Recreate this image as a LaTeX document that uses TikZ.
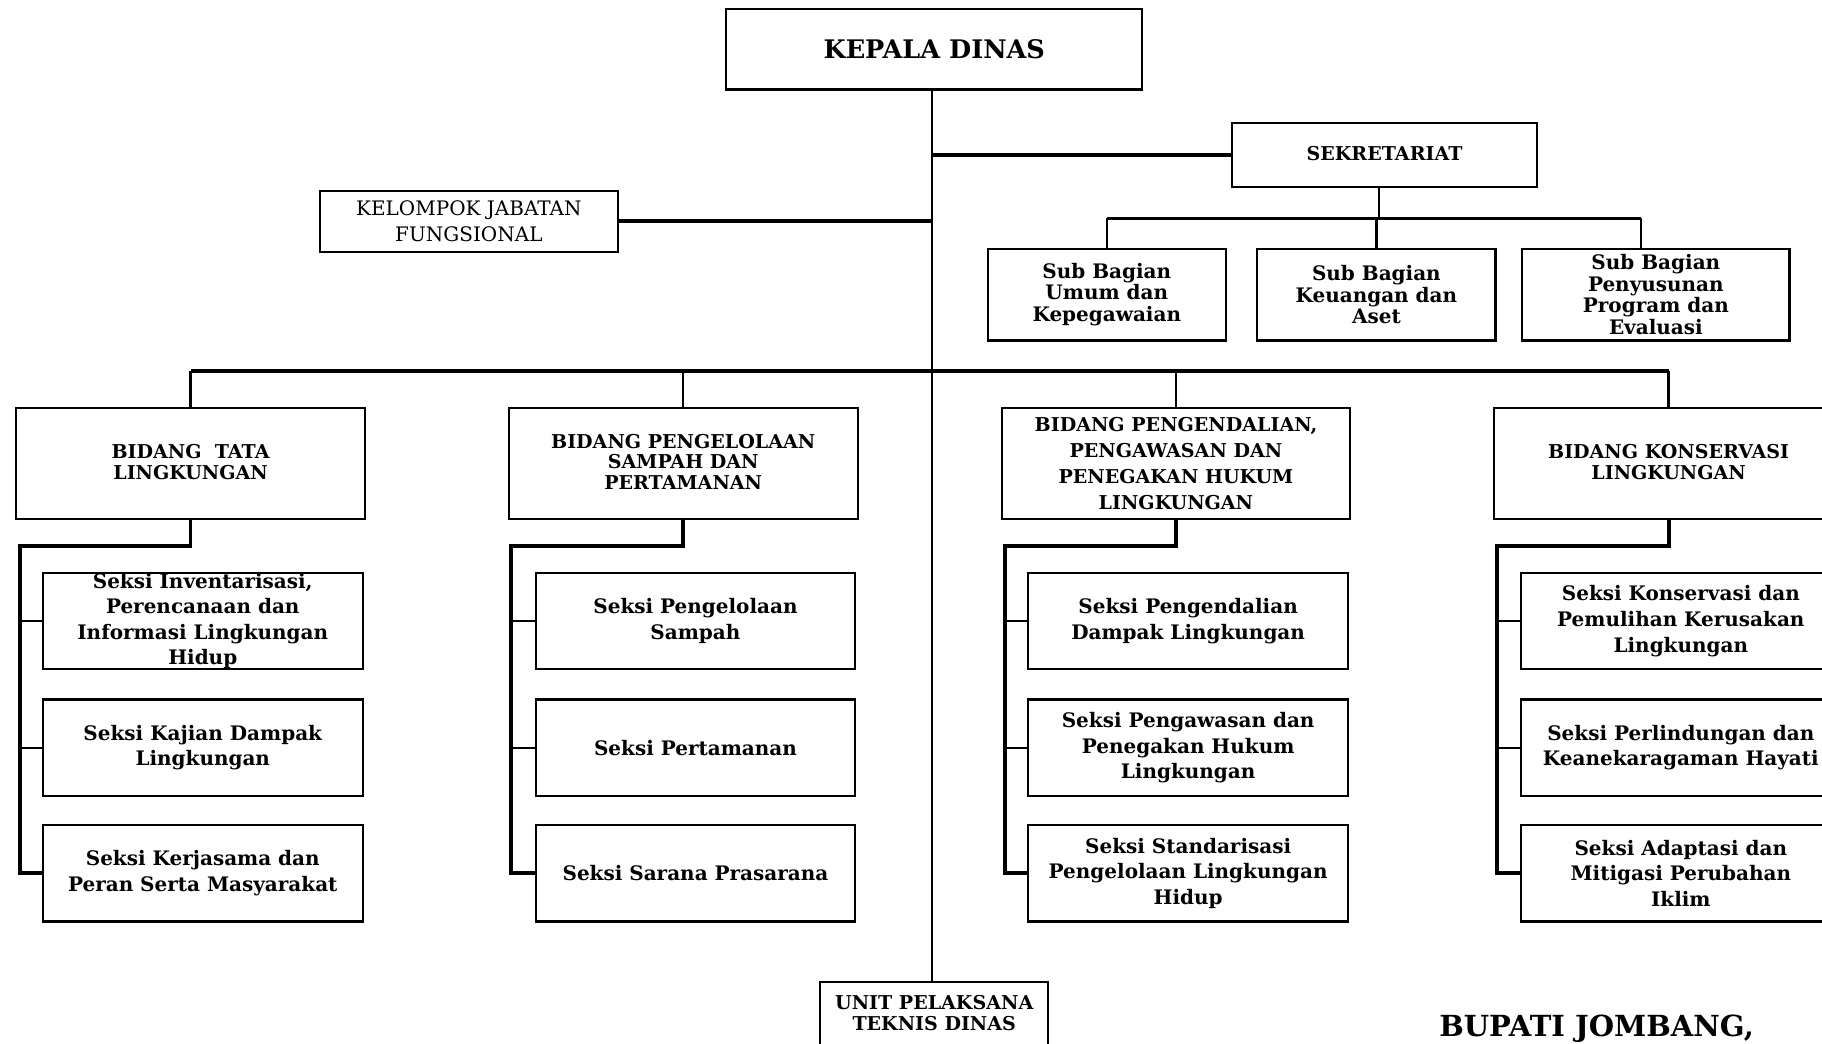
\documentclass[tikz,border=0pt]{standalone}
\usepackage{fontspec}
\setmainfont{DejaVu Serif}
\newcommand\bx[7][]{%
  \node[box,#1,minimum width={(#5-#3)*0.5pt},minimum height={(#6-#4)*0.5pt}] (#2) at ({(#3+#5)/2},{(#4+#6)/2}) {#7};}
\tikzset{
  box/.style={draw, line width=0.9pt, inner sep=0pt, align=center,
    font=\bfseries\fontsize{8.6}{11}\selectfont},
  subbag/.style={font=\bfseries\fontsize{8.6}{9.3}\selectfont},
  bidang/.style={font=\bfseries\fontsize{8.2}{9}\selectfont, text depth=1.5pt},
  bidangwide/.style={font=\bfseries\fontsize{8.2}{11.3}\selectfont},
  headbox/.style={font=\bfseries\fontsize{11}{13}\selectfont},
  regbox/.style={font=\fontsize{8.6}{11.2}\selectfont},
  thin/.style={line width=1pt},
  bus/.style={line width=1.6pt},
}
\begin{document}
\begin{tikzpicture}[x=0.5pt,y=-0.5pt]
\useasboundingbox (0,0) rectangle (1568,898);
\clip (0,0) rectangle (1568,898);
% top level
\bx[headbox]{kd}{625}{8}{983}{77}{KEPALA DINAS}
\bx[bidang]{sek}{1060}{106}{1323}{161}{SEKRETARIAT}
\bx[regbox]{kjf}{275}{164}{532}{217}{KELOMPOK JABATAN\\FUNGSIONAL}
\bx[subbag]{sb1}{850}{214}{1055}{293}{Sub Bagian\\Umum dan\\Kepegawaian}
\bx[subbag]{sb2}{1082}{214}{1287}{293}{Sub Bagian\\Keuangan dan\\Aset}
\bx[subbag]{sb3}{1310}{214}{1540}{293}{Sub Bagian\\Penyusunan\\Program dan\\Evaluasi}
% bidang
\bx[bidang]{b1}{14}{351}{314}{447}{BIDANG\ \ TATA\\LINGKUNGAN}
\bx[bidang]{b2}{438}{351}{738}{447}{BIDANG PENGELOLAAN\\SAMPAH DAN\\PERTAMANAN}
\bx[bidangwide]{b3}{862}{351}{1162}{447}{BIDANG PENGENDALIAN,\\PENGAWASAN DAN\\PENEGAKAN HUKUM\\LINGKUNGAN}
\bx[bidang]{b4}{1286}{351}{1586}{447}{BIDANG KONSERVASI\\LINGKUNGAN}
% seksi column 1
\bx{s11}{37}{493}{312}{576}{Seksi Inventarisasi,\\Perencanaan dan\\Informasi Lingkungan\\Hidup}
\bx{s12}{37}{602}{312}{685}{Seksi Kajian Dampak\\Lingkungan}
\bx{s13}{37}{710}{312}{793}{Seksi Kerjasama dan\\Peran Serta Masyarakat}
% seksi column 2
\bx{s21}{461}{493}{736}{576}{Seksi Pengelolaan\\Sampah}
\bx{s22}{461}{602}{736}{685}{Seksi Pertamanan}
\bx{s23}{461}{710}{736}{793}{Seksi Sarana Prasarana}
% seksi column 3
\bx{s31}{885}{493}{1160}{576}{Seksi Pengendalian\\Dampak Lingkungan}
\bx{s32}{885}{602}{1160}{685}{Seksi Pengawasan dan\\Penegakan Hukum\\Lingkungan}
\bx{s33}{885}{710}{1160}{793}{Seksi Standarisasi\\Pengelolaan Lingkungan\\Hidup}
% seksi column 4
\bx{s41}{1309}{493}{1584}{576}{Seksi Konservasi dan\\Pemulihan Kerusakan\\Lingkungan}
\bx{s42}{1309}{602}{1584}{685}{Seksi Perlindungan dan\\Keanekaragaman Hayati}
\bx{s43}{1309}{710}{1584}{793}{Seksi Adaptasi dan\\Mitigasi Perubahan\\Iklim}
% UPT
\bx[bidang]{upt}{706}{845}{902}{902}{UNIT PELAKSANA\\TEKNIS DINAS}
% signature
\node[font=\bfseries\fontsize{12.5}{15}\selectfont] (bupati) at (1374,885) {BUPATI JOMBANG,};

% coordinates
\coordinate (sbus) at (0,188);
\coordinate (bbus) at (0,319);
\coordinate (c1) at (17,470);
\coordinate (c2) at (440,470);
\coordinate (c3) at (865,470);
\coordinate (c4) at (1288,470);
\coordinate (trunk) at ([xshift=-1pt]kd.south);

% connectors
\draw[thin] (trunk) -- (trunk |- upt.north);
\draw[bus] (sek.west) -- (sek.west -| trunk);
\draw[bus] (kjf.east) -- (kjf.east -| trunk);
\draw[thin] ([xshift=-2.5pt]sek.south) -- ([xshift=-2.5pt]sek.south |- sbus);
\draw[bus] (sb1.north |- sbus) -- ([xshift=-6.5pt]sb3.north |- sbus);
\draw[thin] (sb1.north |- sbus) -- (sb1.north);
\draw[thin] (sb2.north |- sbus) -- (sb2.north);
\draw[thin] ([xshift=-6.5pt]sb3.north |- sbus) -- ([xshift=-6.5pt]sb3.north);
\draw[bus] (b1.north |- bbus) -- (b4.north |- bbus);
\foreach \b in {b1,b2,b3,b4} \draw[thin] (\b.north |- bbus) -- (\b.north);
\foreach \b/\c/\s in {b1/c1/s1,b2/c2/s2,b3/c3/s3,b4/c4/s4} {
  \draw[bus,line join=miter] (\b.south) |- (\c) -- (\c |- \s3.west) -- (\s3.west);
  \draw[thin] (\c |- \s1.west) -- (\s1.west);
  \draw[thin] (\c |- \s2.west) -- (\s2.west);
}
\end{tikzpicture}
\end{document}
